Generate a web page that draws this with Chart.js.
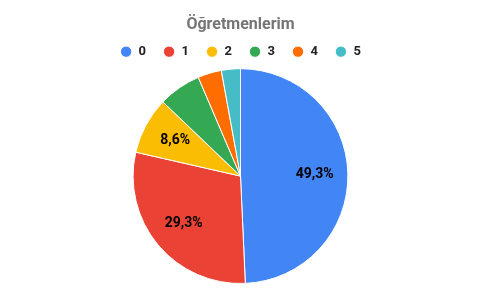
<!DOCTYPE html>
<html>
<head>
<meta charset="utf-8">
<script src="https://cdn.jsdelivr.net/npm/chart.js@4/dist/chart.umd.min.js"></script>
<style>
  html, body { margin: 0; padding: 0; background: #fff; }
  #wrap { width: 481px; height: 298px; }
</style>
</head>
<body>
<div id="wrap"><canvas id="pie"></canvas></div>
<script>
var labels = ["0", "1", "2", "3", "4", "5"];
var counts = [69, 41, 12, 9, 5, 4];
var colors = ["#4285F4", "#EA4335", "#FBBC04", "#34A853", "#FF6D01", "#46BDC6"];
var total = counts.reduce(function (a, b) { return a + b }, 0);

// percent labels inside the big slices
var sliceLabels = {
  id: 'sliceLabels',
  afterDatasetsDraw: function (chart) {
    var ctx = chart.ctx;
    var meta = chart.getDatasetMeta(0);
    ctx.save();
    ctx.font = "bold 14px Roboto, Arial";
    ctx.fillStyle = "#000";
    ctx.textAlign = "center";
    ctx.textBaseline = "middle";
    meta.data.forEach(function (arc, i) {
      var pct = counts[i] / total * 100;
      if (pct < 8) return;
      var mid = (arc.startAngle + arc.endAngle) / 2;
      var r = arc.outerRadius * 0.69;
      var txt = pct.toFixed(1).replace(".", ",") + "%";
      ctx.fillText(txt, arc.x + Math.cos(mid) * r, arc.y + Math.sin(mid) * r);
    });
    ctx.restore();
  }
};

ctx = document.getElementById("pie").getContext('2d');
window.pie = new Chart(ctx, {
  type: 'pie',
  data: {
    labels: labels,
    datasets: [{
      data: counts,
      backgroundColor: colors,
      borderColor: "#fff",
      borderWidth: 1
    }]
  },
  options: {
    responsive: true,
    maintainAspectRatio: false,
    animation: false,
    layout: { padding: { top: 0, bottom: 14 } },
    plugins: {
      title: {
        display: true,
        text: "Öğretmenlerim",
        color: "#757575",
        font: { family: "Roboto, Arial", size: 16, weight: "bold" },
        padding: { top: 15, bottom: -6 }
      },
      legend: {
        position: 'top',
        labels: {
          usePointStyle: true,
          pointStyle: 'circle',
          boxWidth: 12,
          boxHeight: 8,
          padding: 17,
          color: "#222",
          font: { family: "Roboto, Arial", size: 13, weight: "bold" }
        }
      },
      tooltip: { enabled: false }
    }
  },
  plugins: [sliceLabels]
});
</script>
</body>
</html>
